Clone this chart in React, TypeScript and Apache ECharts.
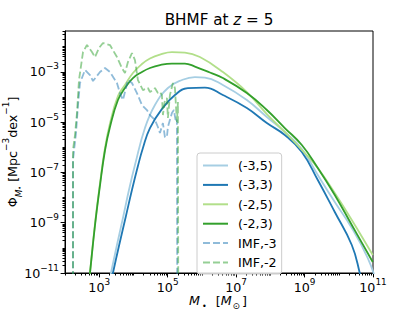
import React, { useEffect, useRef } from "react";
import * as echarts from "echarts";

const FONT = "DejaVu Sans";

// axis ranges, in log10 units
const X_MIN = 2;
const X_MAX = 11;
const Y_MIN = -11;
const Y_MAX = -1.38;

// labelled decades (exponents)
const xMajorExp = [3, 5, 7, 9, 11];
const yMajorExp = [-11, -9, -7, -5, -3];
const xDecades = [2, 3, 4, 5, 6, 7, 8, 9, 10];
const yDecades = [-11, -10, -9, -8, -7, -6, -5, -4, -3, -2];
const minorMults = [2, 3, 4, 5, 6, 7, 8, 9];

const seriesNames = ["(-3,5)", "(-3,3)", "(-2,5)", "(-2,3)", "IMF,-3", "IMF,-2"];

// log10 M  /  log10 Phi
const lm_3_5 = [3.226, 3.343, 3.518, 3.693, 3.869, 4.044, 4.336, 4.628, 5.007, 5.416, 5.796, 6.088, 6.613, 7.314, 7.898, 8.423, 8.92, 9.387, 9.883, 10.38, 10.847, 11.08];
const lp_3_5 = [-11.755, -11, -9.887, -8.814, -7.701, -6.707, -5.237, -4.323, -3.647, -3.329, -3.21, -3.23, -3.528, -4.124, -4.8, -5.396, -6.072, -7.105, -8.178, -9.211, -10.404, -11.278];

const lm_3_3 = [3.285, 3.401, 3.577, 3.781, 3.956, 4.131, 4.277, 4.482, 4.832, 5.212, 5.591, 6.088, 6.613, 7.314, 7.898, 8.423, 8.92, 9.387, 9.883, 10.38, 10.613, 10.73];
const lp_3_3 = [-11.755, -11, -9.927, -8.735, -7.701, -6.747, -6.032, -5.237, -4.482, -3.925, -3.647, -3.627, -3.925, -4.442, -5.038, -5.515, -6.191, -7.304, -8.576, -9.887, -11, -11.755];

const lm_2_5 = [2.672, 2.73, 2.876, 3.022, 3.168, 3.314, 3.547, 3.752, 3.985, 4.248, 4.482, 4.774, 5.124, 5.504, 5.942, 6.613, 7.314, 7.898, 8.569, 9.007, 9.387, 9.883, 10.38, 10.993];
const lp_2_5 = [-11.755, -11, -9.052, -7.443, -6.032, -5.058, -3.965, -3.528, -3.051, -2.693, -2.475, -2.316, -2.216, -2.236, -2.415, -3.011, -3.806, -4.68, -5.595, -6.231, -6.827, -7.82, -8.893, -10.285];

const lm_2_3 = [2.672, 2.73, 2.876, 3.022, 3.168, 3.314, 3.547, 3.752, 3.985, 4.248, 4.482, 4.774, 5.124, 5.504, 5.796, 6.234, 6.613, 7.314, 7.898, 8.423, 8.92, 9.387, 9.883, 10.38, 10.993];
const lp_2_3 = [-11.755, -11, -9.112, -7.522, -6.131, -5.197, -4.124, -3.647, -3.25, -3.011, -2.852, -2.733, -2.673, -2.673, -2.793, -3.031, -3.25, -3.846, -4.521, -5.237, -5.913, -6.827, -7.9, -9.092, -10.563];

const lm_imf3 = [2.234, 2.234, 2.321, 2.38, 2.438, 2.584, 2.73, 2.818, 3.022, 3.168, 3.314, 3.518, 3.606, 3.693, 3.839, 3.956, 4.102, 4.248, 4.394, 4.482, 4.628, 4.715, 4.774, 4.861, 4.92, 4.978, 5.007, 5.124, 5.182, 5.241, 5.27, 5.28];
const lp_imf3 = [-12, -6.5, -5.436, -4.323, -3.448, -2.932, -3.13, -3.369, -3.011, -2.852, -3.011, -3.448, -3.846, -4.124, -3.329, -3.448, -3.846, -4.323, -4.521, -4.72, -4.919, -5.197, -5.436, -5.038, -5.595, -5.595, -5.197, -4.641, -4.521, -4.998, -4.9, -12];

const lm_imf2 = [2.234, 2.234, 2.292, 2.35, 2.409, 2.526, 2.642, 2.788, 2.876, 2.993, 3.109, 3.314, 3.518, 3.664, 3.752, 3.839, 3.956, 4.044, 4.131, 4.277, 4.423, 4.482, 4.569, 4.628, 4.715, 4.774, 4.832, 4.861, 4.92, 4.978, 5.007, 5.066, 5.153, 5.212, 5.27, 5.3, 5.31];
const lp_imf2 = [-12, -6.11, -5.515, -4.641, -3.329, -2.216, -1.938, -2.216, -2.415, -2.057, -1.859, -1.938, -2.415, -2.852, -3.051, -2.614, -2.256, -2.534, -3.329, -3.727, -3.647, -3.806, -3.727, -3.647, -3.846, -3.806, -3.925, -4.72, -4.124, -4.045, -4.839, -3.925, -3.448, -3.647, -4.998, -4.2, -12];

const xs = [lm_3_5, lm_3_3, lm_2_5, lm_2_3, lm_imf3, lm_imf2];
const ys = [lp_3_5, lp_3_3, lp_2_5, lp_2_3, lp_imf3, lp_imf2];

const colors = ["#a6cee3", "#1f78b4", "#b2df8a", "#33a02c", "rgba(31,119,180,0.5)", "rgba(44,160,44,0.5)"];
const dashed = [false, false, false, false, true, true];

function minorTicks(decades: number[], majors: number[], lo: number, hi: number) {
  const out: number[] = [];
  decades.forEach((d) => {
    if (!majors.includes(d) && d >= lo && d <= hi) out.push(d);
    minorMults.forEach((k) => {
      const v = d + Math.log10(k);
      if (v >= lo && v <= hi) out.push(v);
    });
  });
  return out;
}

const tickRich = {
  b: { fontFamily: FONT, fontSize: 12.7, lineHeight: 20, color: "#000" },
  s: { fontFamily: FONT, fontSize: 8.9, lineHeight: 10, verticalAlign: "top", color: "#000" },
};

const supStr = (v: number) => (v < 0 ? "\u2212" + Math.abs(Math.round(v)) : String(Math.round(v)));

function buildOption() {
  const xMinor = minorTicks(xDecades, xMajorExp, X_MIN, X_MAX);
  const yMinor = minorTicks(yDecades, yMajorExp, Y_MIN, Y_MAX);
  const tickLine = { color: "#000", width: 1 };

  const series = seriesNames.map((name, i) => ({
    name,
    type: "line",
    xAxisIndex: 0,
    yAxisIndex: 0,
    data: xs[i].map((x, j) => [x, ys[i][j]]),
    symbol: "none",
    smooth: dashed[i] ? false : 0.45,
    clip: true,
    lineStyle: { color: colors[i], width: 1.8, type: dashed[i] ? [7, 3] : "solid" },
    itemStyle: { color: colors[i] },
  }));

  return {
    animation: false,
    backgroundColor: "#fff",
    grid: { left: 65, right: 42, top: 31, bottom: 38, show: true, borderColor: "#000", borderWidth: 1, backgroundColor: "transparent" },
    xAxis: [
      {
        type: "value", min: X_MIN, max: X_MAX, position: "bottom",
        axisLine: { show: true, onZero: false, lineStyle: tickLine },
        axisTick: { show: true, customValues: xMajorExp, length: 4.4, lineStyle: tickLine },
        axisLabel: { customValues: xMajorExp, margin: 4, formatter: (v: number) => `{b|10}{s|${supStr(v)}}`, rich: tickRich },
        splitLine: { show: false },
      },
      {
        type: "value", min: X_MIN, max: X_MAX, position: "bottom",
        axisLine: { show: false, onZero: false },
        axisTick: { show: true, customValues: xMinor, length: 2.5, lineStyle: tickLine },
        axisLabel: { show: false },
        splitLine: { show: false },
      },
    ],
    yAxis: [
      {
        type: "value", min: Y_MIN, max: Y_MAX, position: "left",
        axisLine: { show: true, onZero: false, lineStyle: tickLine },
        axisTick: { show: true, customValues: yMajorExp, length: 4.4, lineStyle: tickLine },
        axisLabel: { customValues: yMajorExp, margin: 6, formatter: (v: number) => `{b|10}{s|${supStr(v)}}`, rich: tickRich },
        splitLine: { show: false },
      },
      {
        type: "value", min: Y_MIN, max: Y_MAX, position: "left",
        axisLine: { show: false, onZero: false },
        axisTick: { show: true, customValues: yMinor, length: 2.5, lineStyle: tickLine },
        axisLabel: { show: false },
        splitLine: { show: false },
      },
    ],
    legend: {
      orient: "vertical",
      left: 197,
      top: 153,
      padding: [6, 5, 5, 5],
      itemWidth: 25,
      itemHeight: 12,
      itemGap: 6.4,
      backgroundColor: "rgba(255,255,255,0.8)",
      borderColor: "#cccccc",
      borderWidth: 1,
      borderRadius: 3,
      data: seriesNames,
      itemStyle: { opacity: 0 },
      textStyle: { fontFamily: FONT, fontSize: 12.7, color: "#000", lineHeight: 12, padding: [0, 0, 0, 5] },
    },
    graphic: [
      {
        type: "text", x: 219, y: 20,
        style: {
          text: "{n|BHMF at }{i|z}{n| = 5}",
          align: "center", verticalAlign: "middle",
          rich: {
            n: { fontFamily: FONT, fontSize: 15.2, color: "#000" },
            i: { fontFamily: FONT, fontSize: 15.2, fontStyle: "italic", color: "#000" },
          },
        },
      },
      {
        type: "text", x: 218, y: 300,
        style: {
          text: "{i|M}{sb|•}{n|[}{i|M}{so|⊙}{n|]}",
          align: "center", verticalAlign: "middle",
          rich: {
            n: { fontFamily: FONT, fontSize: 12.7, lineHeight: 20, color: "#000" },
            i: { fontFamily: FONT, fontSize: 12.7, lineHeight: 20, fontStyle: "italic", color: "#000" },
            sb: { fontFamily: FONT, fontSize: 8, lineHeight: 12, verticalAlign: "bottom", color: "#000", padding: [0, 9, 0, 2] },
            so: { fontFamily: FONT, fontSize: 8.9, lineHeight: 12, verticalAlign: "bottom", color: "#000", padding: [0, 2, 0, 1] },
          },
        },
      },
      {
        type: "text", x: 12, y: 152, rotation: Math.PI / 2,
        style: {
          text: "{n|Φ}{sm|M}{ss|•}{n| [Mpc}{sp|\u22123}{n|dex}{sp|\u22121}{n|]}",
          align: "center", verticalAlign: "middle",
          rich: {
            n: { fontFamily: FONT, fontSize: 12.7, lineHeight: 22, color: "#000" },
            sm: { fontFamily: FONT, fontSize: 8.9, lineHeight: 16, fontStyle: "italic", verticalAlign: "bottom", color: "#000" },
            ss: { fontFamily: FONT, fontSize: 6.5, lineHeight: 12, verticalAlign: "bottom", color: "#000" },
            sp: { fontFamily: FONT, fontSize: 8.9, lineHeight: 12, verticalAlign: "top", color: "#000" },
          },
        },
      },
    ],
    series,
  };
}

export default function App() {
  const ref = useRef<HTMLDivElement>(null);
  useEffect(() => {
    if (!ref.current) return;
    const chart = echarts.init(ref.current, null, { renderer: "svg" });
    chart.setOption(buildOption() as any);
    return () => chart.dispose();
  }, []);
  return <div ref={ref} style={{ position: "fixed", left: 0, top: 0, width: 415, height: 311, background: "#fff" }} />;
}
